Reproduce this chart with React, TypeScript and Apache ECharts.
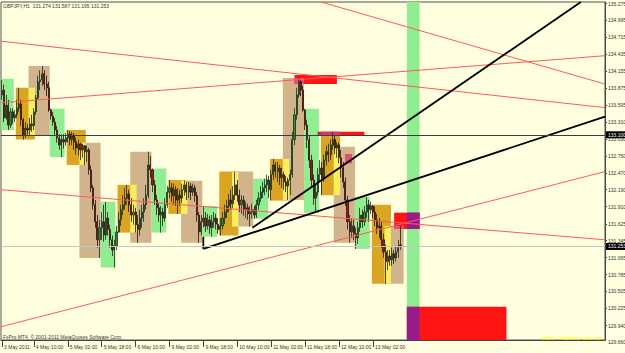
import React, { useEffect, useRef } from 'react';
import * as echarts from 'echarts';

const FONT = 'Liberation Sans';
const symbolTitle = 'GBPJPY,H1  131.274 131.587 131.195 131.253';
const copyright = 'FxPro MT4, \u00a9 2001-2011 MetaQuotes Software Corp.';
const watermark = 'http://www.vip.ae';

const slotCount = 285;
const tickIndex = [0, 15, 31, 47, 63, 79, 95, 111, 127, 143, 159, 175];
const tickText = ['3 May 2011', '4 May 10:00', '5 May 02:00', '5 May 18:00', '6 May 10:00', '9 May 02:00',
  '9 May 18:00', '10 May 10:00', '11 May 02:00', '11 May 18:00', '12 May 10:00', '13 May 02:00'];
const priceTicks = [135.275, 134.995, 134.715, 134.435, 134.155, 133.875, 133.595, 133.310, 133.030, 132.750,
  132.470, 132.190, 131.910, 131.625, 131.345, 131.065, 130.785, 130.505, 130.225, 129.940];
const bottomPriceLabel = '129.660';

const opens = [
  133.76, 133.84, 133.38, 133.59, 133.26, 133.48, 133.38, 133.43, 133.54, 133.61,
  133.35, 133.10, 133.21, 133.18, 133.28, 133.25, 133.48, 133.71, 133.98, 134.01,
  134.11, 133.94, 133.88, 133.51, 133.41, 133.31, 133.18, 133.05, 132.93, 133.02,
  132.98, 133.05, 133.11, 133.02, 133.08, 132.98, 132.88, 132.95, 132.85, 132.92,
  132.82, 132.85, 132.52, 132.22, 131.94, 131.66, 131.36, 131.56, 131.66, 131.44,
  131.72, 131.53, 131.36, 131.19, 131.26, 131.49, 131.69, 131.86, 131.94, 132.05,
  132.12, 131.94, 131.77, 131.82, 131.61, 131.53, 131.72, 131.82, 131.94, 132.10,
  132.60, 132.52, 132.27, 132.02, 131.89, 131.77, 131.82, 131.72, 131.94, 132.15,
  132.22, 132.09, 132.19, 132.02, 132.10, 132.05, 132.19, 132.27, 132.15, 132.25,
  132.15, 132.22, 132.09, 131.77, 131.49, 131.66, 131.72, 131.59, 131.69, 131.56,
  131.66, 131.72, 131.62, 131.53, 131.59, 131.72, 131.82, 131.92, 132.02, 131.96,
  132.10, 132.27, 132.10, 131.94, 132.02, 131.86, 131.89, 131.79, 131.82, 131.86,
  131.77, 131.94, 132.05, 132.15, 132.22, 132.27, 132.35, 132.19, 132.44, 132.60,
  132.49, 132.55, 132.39, 132.44, 132.32, 132.25, 132.35, 132.44, 133.02, 133.43,
  133.76, 133.98, 133.84, 133.51, 133.26, 133.02, 132.68, 132.35, 132.05, 132.15,
  132.44, 132.55, 132.39, 132.68, 132.82, 132.77, 132.93, 133.02, 132.88, 132.93,
  132.72, 132.55, 132.32, 132.02, 131.66, 131.49, 131.59, 131.46, 131.39, 131.56,
  131.77, 131.66, 131.82, 131.94, 131.86, 131.92, 131.82, 131.69, 131.56, 131.59,
  131.36, 131.16, 131.00, 131.09, 131.03, 131.13, 131.06, 131.16, 131.274,
];
const closes = [
  133.84, 133.38, 133.59, 133.26, 133.48, 133.38, 133.43, 133.54, 133.61, 133.35,
  133.10, 133.21, 133.18, 133.28, 133.25, 133.48, 133.71, 133.98, 134.01, 134.11,
  133.94, 133.88, 133.51, 133.41, 133.31, 133.18, 133.05, 132.93, 133.02, 132.98,
  133.05, 133.11, 133.02, 133.08, 132.98, 132.88, 132.95, 132.85, 132.92, 132.82,
  132.85, 132.52, 132.22, 131.94, 131.66, 131.36, 131.56, 131.66, 131.44, 131.72,
  131.53, 131.36, 131.19, 131.26, 131.49, 131.69, 131.86, 131.94, 132.05, 132.12,
  131.94, 131.77, 131.82, 131.61, 131.53, 131.72, 131.82, 131.94, 132.10, 132.60,
  132.52, 132.27, 132.02, 131.89, 131.77, 131.82, 131.72, 131.94, 132.15, 132.22,
  132.09, 132.19, 132.02, 132.10, 132.05, 132.19, 132.27, 132.15, 132.25, 132.15,
  132.22, 132.09, 131.77, 131.49, 131.66, 131.72, 131.59, 131.69, 131.56, 131.66,
  131.72, 131.62, 131.53, 131.59, 131.72, 131.82, 131.92, 132.02, 131.96, 132.10,
  132.27, 132.10, 131.94, 132.02, 131.86, 131.89, 131.79, 131.82, 131.86, 131.77,
  131.94, 132.05, 132.15, 132.22, 132.27, 132.35, 132.19, 132.44, 132.60, 132.49,
  132.55, 132.39, 132.44, 132.32, 132.25, 132.35, 132.44, 133.02, 133.43, 133.76,
  133.98, 133.84, 133.51, 133.26, 133.02, 132.68, 132.35, 132.05, 132.15, 132.44,
  132.55, 132.39, 132.68, 132.82, 132.77, 132.93, 133.02, 132.88, 132.93, 132.72,
  132.55, 132.32, 132.02, 131.66, 131.49, 131.59, 131.46, 131.39, 131.56, 131.77,
  131.66, 131.82, 131.94, 131.86, 131.92, 131.82, 131.69, 131.56, 131.59, 131.36,
  131.16, 131.00, 131.09, 131.03, 131.13, 131.06, 131.16, 131.23, 131.253,
];
const highs = [
  134.01, 133.93, 133.76, 133.68, 133.54, 133.54, 133.51, 133.68, 133.88, 133.68,
  133.38, 133.31, 133.28, 133.38, 133.43, 133.54, 133.76, 134.08, 134.17, 134.24,
  134.17, 134.08, 133.98, 133.53, 133.48, 133.38, 133.25, 133.11, 133.10, 133.11,
  133.13, 133.18, 133.16, 133.15, 133.13, 133.05, 133.02, 132.97, 132.95, 132.93,
  132.92, 132.88, 132.59, 132.27, 132.02, 131.77, 131.69, 131.82, 131.94, 131.99,
  131.82, 131.61, 131.43, 131.36, 131.59, 131.82, 131.94, 132.10, 132.22, 132.27,
  132.19, 132.05, 131.94, 131.89, 131.77, 131.86, 131.94, 132.05, 132.27, 132.82,
  132.75, 132.54, 132.35, 132.10, 131.97, 131.92, 131.89, 132.05, 132.25, 132.35,
  132.30, 132.29, 132.25, 132.22, 132.19, 132.29, 132.34, 132.32, 132.32, 132.30,
  132.29, 132.27, 132.15, 131.82, 131.77, 131.92, 131.82, 131.79, 131.76, 131.77,
  131.82, 131.79, 131.72, 131.72, 131.82, 131.94, 132.02, 132.12, 132.19, 132.25,
  132.49, 132.35, 132.19, 132.10, 132.09, 131.99, 131.96, 131.92, 131.96, 131.92,
  132.02, 132.15, 132.25, 132.32, 132.37, 132.44, 132.42, 132.52, 132.70, 132.65,
  132.65, 132.60, 132.55, 132.49, 132.42, 132.39, 132.52, 133.15, 133.54, 133.88,
  134.04, 134.03, 133.91, 133.53, 133.35, 133.08, 132.77, 132.44, 132.27, 132.55,
  132.68, 132.65, 132.77, 132.92, 132.95, 133.02, 133.15, 133.08, 132.98, 132.97,
  132.85, 132.65, 132.39, 132.09, 131.77, 131.72, 131.69, 131.56, 131.66, 131.89,
  131.86, 131.92, 132.07, 132.02, 131.99, 131.94, 131.91, 131.79, 131.72, 131.66,
  131.46, 131.28, 131.19, 131.19, 131.23, 131.19, 131.26, 131.36, 131.587,
];
const lows = [
  133.68, 133.31, 133.35, 133.18, 133.21, 133.28, 133.31, 133.38, 133.48, 133.25,
  133.02, 133.05, 133.10, 133.08, 133.15, 133.18, 133.43, 133.68, 133.84, 133.91,
  133.84, 133.74, 133.48, 133.35, 133.25, 133.08, 132.97, 132.85, 132.73, 132.87,
  132.92, 132.98, 132.92, 132.93, 132.85, 132.77, 132.75, 132.68, 132.72, 132.60,
  132.65, 132.44, 132.15, 131.86, 131.56, 131.23, 131.06, 131.36, 131.33, 131.36,
  131.43, 131.23, 131.09, 130.90, 131.19, 131.48, 131.59, 131.77, 131.86, 131.94,
  131.82, 131.66, 131.61, 131.48, 131.31, 131.43, 131.56, 131.66, 131.86, 132.05,
  132.39, 132.15, 131.94, 131.77, 131.66, 131.48, 131.59, 131.66, 131.89, 132.05,
  131.99, 131.94, 131.92, 131.79, 131.92, 131.97, 132.09, 132.02, 132.05, 132.02,
  132.09, 131.99, 131.66, 131.31, 131.43, 131.56, 131.49, 131.53, 131.46, 131.41,
  131.56, 131.53, 131.46, 131.43, 131.53, 131.62, 131.72, 131.82, 131.86, 131.89,
  132.02, 131.99, 131.82, 131.79, 131.76, 131.72, 131.69, 131.58, 131.71, 131.71,
  131.72, 131.86, 131.99, 132.05, 132.10, 132.15, 132.05, 132.01, 132.35, 132.39,
  132.32, 132.27, 132.22, 132.19, 132.15, 132.02, 132.10, 132.39, 132.93, 133.35,
  133.71, 133.74, 133.48, 133.18, 132.88, 132.55, 132.22, 131.94, 131.81, 132.09,
  132.32, 132.10, 132.32, 132.59, 132.65, 132.68, 132.85, 132.78, 132.72, 132.63,
  132.39, 132.22, 131.92, 131.53, 131.31, 131.39, 131.36, 131.21, 131.29, 131.49,
  131.56, 131.59, 131.72, 131.66, 131.79, 131.72, 131.59, 131.46, 131.39, 131.23,
  131.06, 130.63, 130.86, 130.93, 130.93, 130.96, 131.00, 131.06, 131.195,
];

// boxes: [startEdge, endEdge, high, low] in bar slots
const greenBoxes = [
  [0, 6, 134.03, 133.18], [23, 30, 133.53, 132.73], [47, 54, 131.99, 130.90], [71, 78, 132.54, 131.48],
  [95, 102, 131.92, 131.41], [119, 126, 132.37, 131.71], [143, 150, 133.53, 131.81], [167, 174, 132.07, 131.21],
];
const signalBand = [191.5, 197.5, 136.0, 129.0];
const orangeBoxes = [
  [7, 16, 133.88, 133.02], [31, 40, 133.18, 132.60], [55, 64, 132.27, 131.48], [79, 88, 132.35, 131.79],
  [103, 112, 132.49, 131.43], [127, 136, 132.70, 132.01], [151, 160, 133.15, 132.10], [175, 184, 131.94, 130.63],
];
const tanBoxes = [
  [13, 23, 134.24, 133.08], [37, 47, 132.97, 131.06], [61, 71, 132.82, 131.31], [85, 95, 132.34, 131.31],
  [109, 119, 132.49, 131.58], [133, 143, 134.04, 132.02], [157, 167, 132.90, 131.31], [181, 190, 131.59, 130.63],
];
const redBoxes = [
  [138.5, 158.5, 134.09, 133.94], [149.5, 171.5, 133.15, 133.08], [162.5, 165.5, 132.78, 132.63],
  [185.5, 197.5, 131.81, 131.54], [191.5, 238.5, 130.25, 129.0],
];
// lines: [edge0, price0, edge1, price1]
const redLines = [
  [0, 134.65, 285, 133.55], [151, 135.30, 285, 133.94], [0, 133.63, 285, 134.41],
  [0, 132.19, 285, 131.36], [0, 129.92, 285, 132.49],
];
const blackLines = [
  [95.46, 131.41, 95.46, 131.21], [95.46, 131.21, 285, 133.40], [118.6, 131.56, 273.6, 135.30],
];
const levelPrice = 133.10;
const bidPrice = 131.253;

const inter = (a: number[], b: number[]) => {
  const s = Math.max(a[0], b[0]);
  const e = Math.min(a[1], b[1]);
  const hi = Math.min(a[2], b[2]);
  const lo = Math.max(a[3], b[3]);
  return s < e && lo < hi ? [s, e, hi, lo] : null;
};

function rectEl(api: any, params: any, b: number[], fill: string) {
  const bw = api.size([1, 0])[0];
  const top = api.coord([0, b[2]]);
  const bot = api.coord([0, b[3]]);
  const left0 = top[0] - bw / 2;
  const cs = params.coordSys;
  const shape = echarts.graphic.clipRectByRect(
    { x: left0 + b[0] * bw, y: top[1], width: (b[1] - b[0]) * bw, height: bot[1] - top[1] },
    { x: cs.x, y: cs.y, width: cs.width, height: cs.height }
  );
  if (!shape) return null;
  return { type: 'rect', shape, style: { fill } };
}

function segEl(api: any, b: number[], stroke: string, lineWidth: number) {
  const bw = api.size([1, 0])[0];
  const p0 = api.coord([0, b[1]]);
  const p1 = api.coord([0, b[3]]);
  const left0 = p0[0] - bw / 2;
  return {
    type: 'line',
    shape: { x1: left0 + b[0] * bw, y1: p0[1], x2: left0 + b[2] * bw, y2: p1[1] },
    style: { stroke, lineWidth },
  };
}

const boxSeries = (boxes: number[][], draw: (b: number[], i: number, params: any, api: any) => any[]) => ({
  type: 'custom',
  silent: true,
  z: 1,
  data: boxes.map((b) => [Math.floor(b[0]), b[3]]),
  encode: { x: 0, y: 1 },
  renderItem: (params: any, api: any) => {
    const b = boxes[params.dataIndex];
    return { type: 'group', children: draw(b, params.dataIndex, params, api).filter(Boolean) };
  },
});

export default function App() {
  const ref = useRef<HTMLDivElement>(null);
  useEffect(() => {
    document.body.style.margin = '0';
    const chart = echarts.init(ref.current!, null, { renderer: 'svg' });
    const categories = Array.from({ length: slotCount }, (_, i) => 'b' + i);
    const tickMap: Record<number, string> = {};
    tickIndex.forEach((k, j) => { tickMap[k] = tickText[j]; });
    const isTick = (i: number) => tickMap[i] !== undefined;
    const candleRows = opens.map((o, i) => [o, closes[i], lows[i], highs[i]]);
    const greensAll = [...greenBoxes, signalBand];

    const option: any = {
      animation: false,
      backgroundColor: '#ffffe0',
      grid: {
        left: 1, right: 20, top: 2, bottom: 13, show: true, backgroundColor: '#ffffe0',
        borderColor: '#555', borderWidth: 1, containLabel: false, outerBoundsMode: 'none',
      },
      xAxis: {
        type: 'category', data: categories, boundaryGap: true,
        axisLine: { show: true, lineStyle: { color: '#444', width: 1 } },
        axisTick: { show: true, alignWithLabel: true, interval: (i: number) => isTick(i), length: 7, lineStyle: { color: '#444' } },
        axisLabel: {
          interval: (i: number) => isTick(i), formatter: (_v: string, i: number) => tickMap[i] ?? '',
          fontSize: 5, color: '#333', fontFamily: FONT, align: 'left', margin: 4, padding: [0, 0, 0, 2],
        },
        splitLine: { show: false },
      },
      yAxis: {
        type: 'value', position: 'right', min: 129.70, max: 135.30, scale: true,
        splitLine: { show: false },
        axisLine: { show: true, lineStyle: { color: '#444' } },
        axisTick: { show: true, customValues: priceTicks, length: 2, lineStyle: { color: '#444' } },
        axisLabel: { customValues: priceTicks, formatter: (v: number) => v.toFixed(3), fontSize: 5, color: '#333', fontFamily: FONT, margin: 3 },
      },
      graphic: [
        { type: 'text', left: 3, top: 3, silent: true, style: { text: symbolTitle, fontSize: 5, fill: '#3a3a3a', fontFamily: FONT } },
        { type: 'text', left: 3, top: 334, silent: true, style: { text: copyright, fontSize: 5, fill: '#3a3a3a', fontFamily: FONT } },
        { type: 'text', right: 22, top: 334, silent: true, style: { text: watermark, fontSize: 8, fill: '#ffff00', fontFamily: FONT } },
        { type: 'text', left: 608, top: 339.5, silent: true, style: { text: bottomPriceLabel, fontSize: 5, fill: '#333', fontFamily: FONT } },
      ],
      series: [
        boxSeries(greensAll, (b, _i, p, api) => [rectEl(api, p, b, '#90ee90')]),
        boxSeries(orangeBoxes, (b, _i, p, api) => [rectEl(api, p, b, '#daa520')]),
        boxSeries(tanBoxes, (b, _i, p, api) => [rectEl(api, p, b, '#d2b48c')]),
        boxSeries(orangeBoxes, (b, i, p, api) => {
          const x = inter(b, tanBoxes[i]);
          return x ? [rectEl(api, p, x, '#f9ef5c')] : [];
        }),
        boxSeries(redBoxes, (b, _i, p, api) => {
          const out: any[] = [rectEl(api, p, b, '#ff1414')];
          greensAll.forEach((g) => { const x = inter(b, g); if (x) out.push(rectEl(api, p, x, '#981b8c')); });
          tanBoxes.forEach((t) => { const x = inter(b, t); if (x) out.push(rectEl(api, p, x, '#e0507e')); });
          orangeBoxes.forEach((o) => { const x = inter(b, o); if (x) out.push(rectEl(api, p, x, '#c83c78')); });
          return out;
        }),
        {
          type: 'candlestick', z: 2, data: candleRows, barWidth: 1.6,
          itemStyle: { color: '#2a942a', color0: '#a81414', borderColor: '#1a2e1a', borderColor0: '#301010', borderWidth: 0.8 },
          markLine: {
            symbol: 'none', silent: true, animation: false,
            data: [
              { yAxis: levelPrice, lineStyle: { color: '#3c3c3c', width: 1, type: 'solid' },
                label: { show: true, position: 'end', formatter: levelPrice.toFixed(3), backgroundColor: '#000', color: '#fff', fontSize: 5, fontFamily: FONT, padding: [1, 3, 1, 2], distance: 1 } },
              { yAxis: bidPrice, lineStyle: { color: '#c4c4c4', width: 1, type: 'solid' },
                label: { show: true, position: 'end', formatter: bidPrice.toFixed(3), backgroundColor: '#000', color: '#fff', fontSize: 5, fontFamily: FONT, padding: [1, 3, 1, 2], distance: 1 } },
            ],
          },
        },
        {
          type: 'custom', z: 3, silent: true,
          data: [...redLines, ...blackLines].map((b) => [Math.floor(b[0]), b[1]]),
          encode: { x: 0, y: 1 },
          renderItem: (_params: any, api: any) => {
            const i = _params.dataIndex;
            if (i < redLines.length) return segEl(api, redLines[i], '#ff5a5a', 1);
            return segEl(api, blackLines[i - redLines.length], '#000', 1.8);
          },
        },
      ],
    };
    chart.setOption(option);
    return () => chart.dispose();
  }, []);
  return <div ref={ref} style={{ position: 'fixed', left: 0, top: 0, width: 625, height: 353 }} />;
}
